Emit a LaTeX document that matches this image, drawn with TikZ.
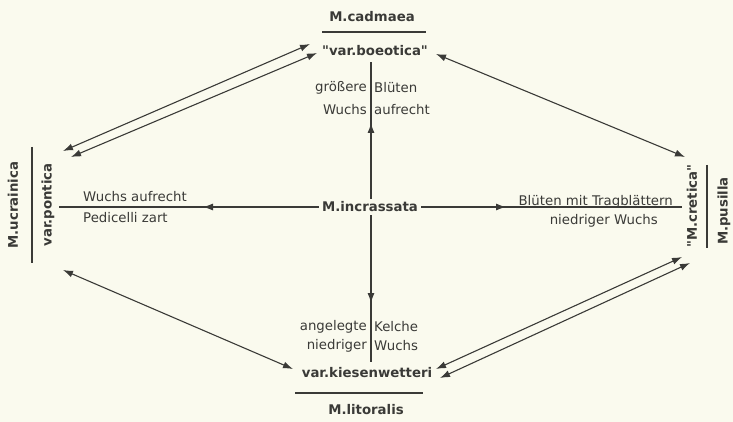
\documentclass[tikz,border=0pt]{standalone}
\usepackage{fontspec}
\setmainfont{DejaVu Sans}[Ligatures=TeXOff]
\usetikzlibrary{arrows.meta}
\definecolor{bg}{RGB}{250,250,238}
\definecolor{ink}{RGB}{58,58,55}
\begin{document}
\begin{tikzpicture}[x=1pt,y=-1pt,
  every node/.style={text=ink,font=\fontsize{13.3}{15}\selectfont,inner sep=0pt},
  bname/.style={font=\fontsize{13.3}{15}\selectfont\bfseries},
  conn/.style={draw=ink,line width=1.1pt},
  tipend/.style={-{Latex[length=10pt,width=7pt]}},
  twoend/.style={{Latex[length=10pt,width=7pt]}-{Latex[length=10pt,width=7pt]}}
]
\fill[bg] (0,0) rectangle (733,422);
\useasboundingbox (0,0) rectangle (733,422);

% top group
\node[bname] (cad) at (372,17) {M.cadmaea};
\coordinate (cadL) at (322,32); \coordinate (cadR) at (426,32);
\draw[conn] (cadL) -- (cadR);
\node[bname] (boe) at (375,51) {"var.boeotica"};

% bottom group
\node[bname] (kie) at (367,373) {var.kiesenwetteri};
\coordinate (litL) at (295,393); \coordinate (litR) at (423,393);
\draw[conn] (litL) -- (litR);
\node[bname] (lit) at (366,410) {M.litoralis};

% left group
\node[bname,rotate=90] (ucr) at (13,205) {M.ucrainica};
\coordinate (ucrT) at (32,147); \coordinate (ucrB) at (32,263);
\draw[conn] (ucrT) -- (ucrB);
\node[bname,rotate=90] (pon) at (48,205) {var.pontica};

% right group
\node[bname,rotate=90] (cre) at (692,206) {"M.cretica"};
\coordinate (creT) at (707,165); \coordinate (creB) at (707,248);
\draw[conn] (creT) -- (creB);
\node[bname,rotate=90] (pus) at (724,211) {M.pusilla};

% centre
\node[bname,inner sep=3pt] (inc) at (370,207) {M.incrassata};

\coordinate (upEnd) at (371,62);  \coordinate (upTip) at (371,123);
\coordinate (dnEnd) at (371,362); \coordinate (dnTip) at (371,303);
\coordinate (lfEnd) at (59,207);  \coordinate (lfTip) at (203,207);
\coordinate (rtEnd) at (682,207); \coordinate (rtTip) at (506,207);

\draw[conn] (inc.north -| upEnd) -- (upEnd);
\draw[conn,tipend] (inc.north -| upEnd) -- (upTip);
\draw[conn] (inc.south -| dnEnd) -- (dnEnd);
\draw[conn,tipend] (inc.south -| dnEnd) -- (dnTip);
\draw[conn] (inc.west) -- (lfEnd);
\draw[conn,tipend] (inc.west) -- (lfTip);
\draw[conn] (inc.east) -- (rtEnd);
\draw[conn,tipend] (inc.east) -- (rtTip);

% labels along the axes
\node[anchor=east] (l1) at (367,88) {größere};
\node[anchor=west] (r1) at (374,88) {Blüten};
\node[anchor=east] (l2) at (367,110) {Wuchs};
\node[anchor=west] (r2) at (374,110) {aufrecht};
\node[anchor=east] (l3) at (367,327) {angelegte};
\node[anchor=west] (r3) at (374,327) {Kelche};
\node[anchor=east] (l4) at (367,346) {niedriger};
\node[anchor=west] (r4) at (374,346) {Wuchs};

\node[anchor=west] (wa) at (83,197) {Wuchs aufrecht};
\node[anchor=west] (pz) at (83,218) {Pedicelli zart};
\node[anchor=east] (bt) at (673,202) {Blüten mit Tragblättern};
\node[anchor=east] (nw) at (658,221) {niedriger Wuchs};

% diagonal connections
\coordinate (ulA1) at (63,151);  \coordinate (ulA2) at (310,44);
\coordinate (ulB1) at (71,157);  \coordinate (ulB2) at (317,53);
\draw[conn,twoend] (ulA1) -- (ulA2);
\draw[conn,twoend] (ulB1) -- (ulB2);

\coordinate (urA1) at (436,54);  \coordinate (urA2) at (685,157);
\draw[conn,twoend] (urA1) -- (urA2);

\coordinate (llA1) at (63,270);  \coordinate (llA2) at (293,369);
\draw[conn,twoend] (llA1) -- (llA2);

\coordinate (lrA1) at (436,369); \coordinate (lrA2) at (682,257);
\coordinate (lrB1) at (440,378); \coordinate (lrB2) at (690,263);
\draw[conn,twoend] (lrA1) -- (lrA2);
\draw[conn,twoend] (lrB1) -- (lrB2);
\end{tikzpicture}
\end{document}
